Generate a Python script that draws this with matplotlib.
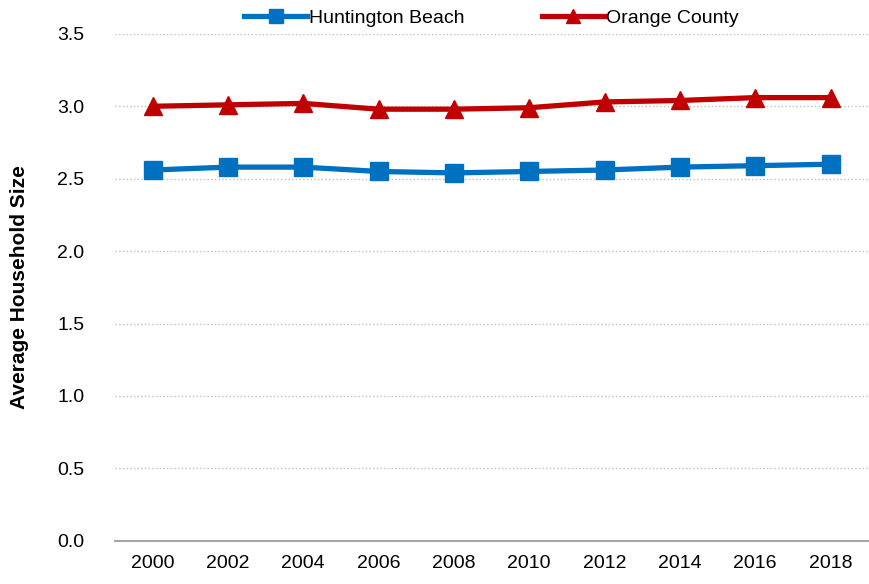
import matplotlib.pyplot as plt
from matplotlib import font_manager

years = ['2000', '2002', '2004', '2006', '2008', '2010', '2012', '2014', '2016', '2018']
huntington_beach = [2.56, 2.58, 2.58, 2.55, 2.54, 2.55, 2.56, 2.58, 2.59, 2.60]
orange_county = [3.00, 3.01, 3.02, 2.98, 2.98, 2.99, 3.03, 3.04, 3.06, 3.06]

names = {f.name for f in font_manager.fontManager.ttflist}
font = 'Liberation Sans Narrow' if 'Liberation Sans Narrow' in names else 'Liberation Sans'
plt.rcParams['font.family'] = [font, 'DejaVu Sans']

fig = plt.figure(figsize=(8.7, 5.84), dpi=100)
ax = fig.add_axes([0.132, 0.074, 0.866, 0.868])

x = range(len(years))
ax.plot(x, huntington_beach, color='#0070C0', lw=3.8, marker='s', ms=13,
        label='Huntington Beach')
ax.plot(x, orange_county, color='#C00000', lw=3.8, marker='^', ms=13,
        label='Orange County')

ax.set_xlim(-0.5, len(years) - 0.5)
ax.set_ylim(0, 3.5)
ax.set_yticks([0, 0.5, 1.0, 1.5, 2.0, 2.5, 3.0, 3.5])
ax.set_yticklabels(['0.0', '0.5', '1.0', '1.5', '2.0', '2.5', '3.0', '3.5'])
ax.set_xticks(list(x))
ax.set_xticklabels(years)
ax.tick_params(axis='both', length=0, labelsize=14)
ax.tick_params(axis='y', pad=22)
ax.tick_params(axis='x', pad=10)

ax.grid(axis='y', color='#BFBFBF', ls=':', lw=1)
ax.set_axisbelow(True)
for s in ['top', 'right', 'left']:
    ax.spines[s].set_visible(False)
ax.spines['bottom'].set_color('#A6A6A6')
ax.spines['bottom'].set_linewidth(1.5)

ax.set_ylabel('Average Household Size', fontsize=15, fontweight='bold', labelpad=20)

ax.legend(loc='lower center', bbox_to_anchor=(0.5, 0.98), ncol=2, frameon=False,
          fontsize=14, handlelength=3.2, handletextpad=0.1, columnspacing=4,
          markerscale=0.75)

fig.savefig('out.png', dpi=100)
